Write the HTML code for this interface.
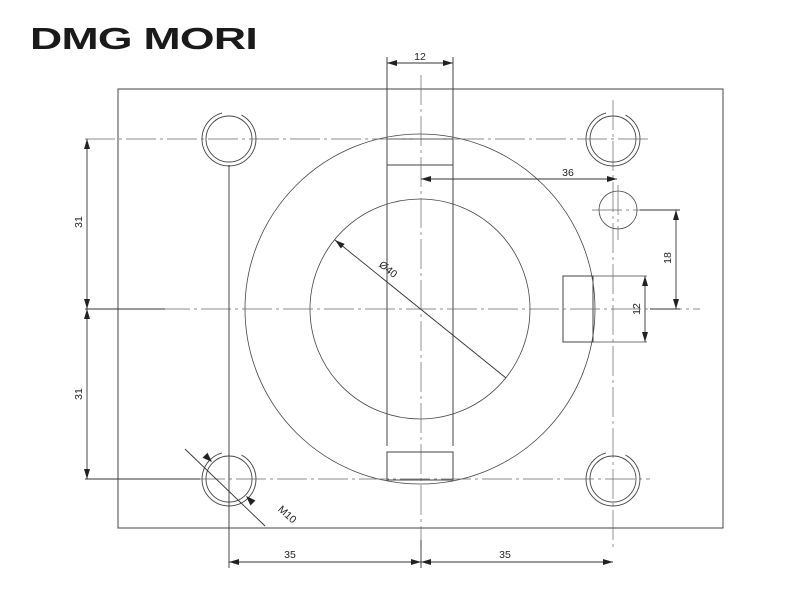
<!DOCTYPE html>
<html><head><meta charset="utf-8"><style>
html,body{margin:0;padding:0;background:#fff;width:800px;height:600px;overflow:hidden}
svg{display:block}
text{font-family:"Liberation Sans",sans-serif;font-size:10.5px;fill:#222}
</style></head><body>
<svg width="800" height="600" viewBox="0 0 800 600" xmlns="http://www.w3.org/2000/svg">
<defs>
<marker id="a" viewBox="0 0 10 6" refX="10" refY="3" markerWidth="10" markerHeight="6" orient="auto-start-reverse" markerUnits="userSpaceOnUse"><path d="M0,0L10,3L0,6z" fill="#222"/></marker>
</defs>
<text x="30" y="49" style="font-size:31px;font-weight:900;letter-spacing:-0.5px;fill:#1a1a1a;font-family:'Liberation Sans',sans-serif" textLength="227" lengthAdjust="spacingAndGlyphs">DMG MORI</text>
<g fill="none" stroke="#444" stroke-width="1">
<rect x="118" y="89" width="605" height="439"/>
<circle cx="420" cy="309" r="175" stroke-width="0.8"/>
<circle cx="420" cy="309" r="110" stroke-width="0.8"/>
<line x1="387" y1="57" x2="387" y2="446"/>
<line x1="453" y1="57" x2="453" y2="446"/>
<rect x="387" y="139" width="66" height="26" fill="#fff"/>
<rect x="387" y="452" width="66" height="28"/>
<rect x="563" y="276" width="30" height="66"/>
<line x1="593" y1="276" x2="647" y2="276" stroke-width="0.8"/>
<line x1="593" y1="342" x2="647" y2="342" stroke-width="0.8"/>
<circle cx="618" cy="210" r="19" stroke-width="0.8"/>
<g stroke-width="0.9">
<circle cx="229" cy="139" r="23"/><circle cx="229" cy="139" r="27" stroke-dasharray="120 20"/>
<circle cx="613" cy="139" r="23"/><circle cx="613" cy="139" r="27" stroke-dasharray="120 20"/>
<circle cx="229" cy="479" r="23"/><circle cx="229" cy="479" r="27" stroke-dasharray="120 20"/>
<circle cx="613" cy="479" r="23"/><circle cx="613" cy="479" r="27" stroke-dasharray="120 20"/>
</g>
</g>
<g stroke="#666" stroke-width="0.7" fill="none" stroke-dasharray="30 4 3 4">
<line x1="421" y1="75" x2="421" y2="548"/>
<line x1="613" y1="100" x2="613" y2="548"/>
<line x1="85" y1="139" x2="650" y2="139"/>
<line x1="160" y1="309" x2="700" y2="309"/>
<line x1="195" y1="479" x2="650" y2="479"/>
<line x1="592" y1="210" x2="660" y2="210"/>
<line x1="618" y1="185" x2="618" y2="240"/>
</g>
<g stroke="#333" stroke-width="0.9" fill="none">
<line x1="229" y1="165" x2="229" y2="568"/>
<line x1="85" y1="309" x2="165" y2="309"/>
<line x1="85" y1="479" x2="200" y2="479"/>
<line x1="421" y1="540" x2="421" y2="568"/>
<line x1="640" y1="210" x2="680" y2="210"/>
<line x1="650" y1="309" x2="680" y2="309"/>
<line x1="387" y1="63" x2="453" y2="63" marker-start="url(#a)" marker-end="url(#a)"/>
<line x1="421" y1="179" x2="617" y2="179" marker-start="url(#a)" marker-end="url(#a)"/>
<line x1="676" y1="210" x2="676" y2="309" marker-start="url(#a)" marker-end="url(#a)"/>
<line x1="645" y1="276" x2="645" y2="342" marker-start="url(#a)" marker-end="url(#a)"/>
<line x1="87" y1="139" x2="87" y2="309" marker-start="url(#a)" marker-end="url(#a)"/>
<line x1="87" y1="309" x2="87" y2="479" marker-start="url(#a)" marker-end="url(#a)"/>
<line x1="229" y1="562" x2="421" y2="562" marker-start="url(#a)" marker-end="url(#a)"/>
<line x1="421" y1="562" x2="613" y2="562" marker-start="url(#a)" marker-end="url(#a)"/>
<line x1="335" y1="240" x2="506" y2="378" marker-start="url(#a)"/>
<line x1="185" y1="449" x2="265" y2="526"/>
</g>
<g fill="#222">
<polygon points="212,462 207.5,452.8 202.5,457.8"/>
<polygon points="246,496 255.5,500.5 250.5,505.5"/>
</g>
<text x="420" y="60" text-anchor="middle">12</text>
<text x="568" y="176" text-anchor="middle">36</text>
<text x="290" y="558" text-anchor="middle">35</text>
<text x="505" y="558" text-anchor="middle">35</text>
<text transform="translate(82,222) rotate(-90)" text-anchor="middle">31</text>
<text transform="translate(82,394) rotate(-90)" text-anchor="middle">31</text>
<text transform="translate(671,258) rotate(-90)" text-anchor="middle">18</text>
<text transform="translate(640,309) rotate(-90)" text-anchor="middle">12</text>
<text transform="translate(386,272) rotate(39)" text-anchor="middle">Ø40</text>
<text transform="translate(285,517) rotate(42)" text-anchor="middle">M10</text>
</svg>
</body></html>
